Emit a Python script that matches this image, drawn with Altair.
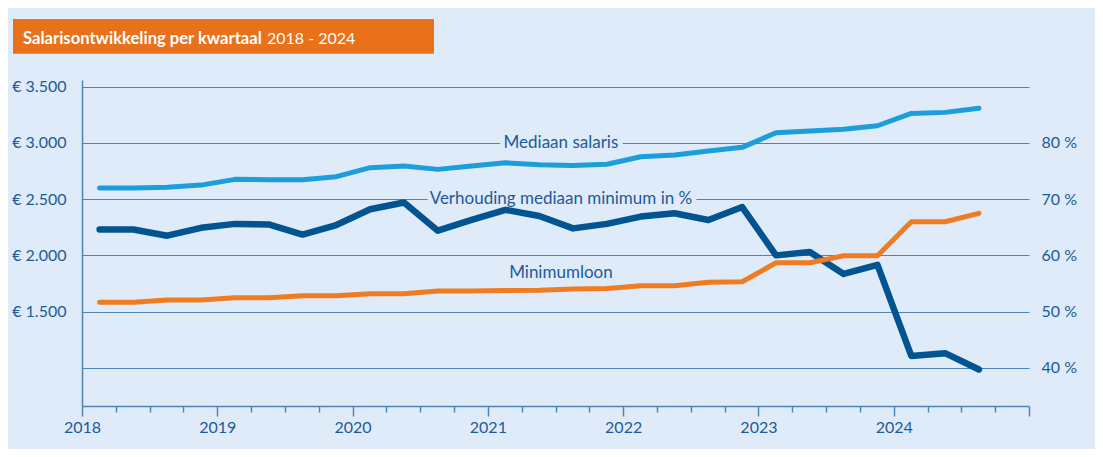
import altair as alt
import pandas as pd

# ---- data -------------------------------------------------------------
jaren = [2018] * 4 + [2019] * 4 + [2020] * 4 + [2021] * 4 + [2022] * 4 + [2023] * 4 + [2024] * 3
kwartalen = [1, 2, 3, 4] * 6 + [1, 2, 3]

mediaan_salaris = [2600, 2600, 2605, 2625, 2676, 2673, 2673, 2700, 2780, 2795, 2765, 2795,
                   2824, 2806, 2800, 2810, 2877, 2892, 2928, 2961, 3091, 3106, 3121, 3153,
                   3263, 3272, 3308]
minimumloon = [1582, 1582, 1602, 1602, 1623, 1623, 1641, 1641, 1658, 1658, 1682, 1682,
               1688, 1690, 1700, 1706, 1729, 1729, 1760, 1765, 1934, 1934, 1996, 1996,
               2299, 2299, 2374]
verhouding = [64.6, 64.6, 63.5, 64.9, 65.6, 65.5, 63.7, 65.4, 68.2, 69.4, 64.4, 66.3,
              68.1, 67.0, 64.8, 65.6, 66.9, 67.5, 66.3, 68.6, 60.0, 60.6, 56.7, 58.3,
              42.1, 42.6, 39.7]

euro_ticks = [1000, 1500, 2000, 2500, 3000, 3500]
pct_ticks = [40, 50, 60, 70, 80]
x_ticks = [2018 + i * 0.25 for i in range(29)]

label_texts = ["Mediaan salaris", "Verhouding mediaan minimum in %", "Minimumloon"]
label_t = [2021.54, 2021.54, 2021.54]
label_waarde = [3000, 2500, 1845]

title_bold = "Salarisontwikkeling per kwartaal"
title_regular = "2018 - 2024"

# ---- styling ----------------------------------------------------------
BG = "#dfebf8"
GRID = "#4c84bb"
TXT = "#1d5a98"
LIGHT = "#1b9edb"
DARK = "#01548f"
ORANGE = "#f07c22"
BOX = "#e9711a"
FONT = "Lato"

# time position of each quarterly observation (middle of the 2nd month)
t = [j + (k - 1) * 0.25 + 0.13 for j, k in zip(jaren, kwartalen)]

euro_df = pd.DataFrame({
    "t": t * 2,
    "waarde": mediaan_salaris + minimumloon,
    "reeks": ["Mediaan salaris"] * len(t) + ["Minimumloon"] * len(t),
})
pct_df = pd.DataFrame({"t": t, "pct": verhouding})
label_df = pd.DataFrame({"label": label_texts, "t": label_t, "waarde": label_waarde})
one = pd.DataFrame({"a": [0]})

X = alt.X(
    "t:Q",
    scale=alt.Scale(domain=[2018, 2025], nice=False, zero=False),
    axis=alt.Axis(
        values=x_ticks,
        labelExpr="(datum.value % 1 === 0 && datum.value < 2025) ? format(datum.value, 'd') : ''",
        title=None,
        grid=False,
        domainColor=GRID,
        domainWidth=1.5,
        tickColor=GRID,
        tickWidth=1.5,
        tickSize={"condition": {"test": "datum.value % 1 === 0", "value": 10}, "value": 6},
        labelPadding=3,
        labelFont=FONT,
        labelFontSize=16,
        labelColor=TXT,
        labelFlush=False,
        labelOverlap=False,
    ),
)

euro_scale = alt.Scale(domain=[660, 3560], nice=False, zero=False)

Y_euro = alt.Y(
    "waarde:Q",
    scale=euro_scale,
    axis=alt.Axis(
        orient="left",
        values=euro_ticks,
        labelExpr="datum.value < 1500 ? '' : '€ ' + replace(format(datum.value, ','), ',', '.')",
        title=None,
        grid=True,
        gridColor=GRID,
        gridWidth=1.2,
        domain=True,
        domainColor=GRID,
        domainWidth=1.5,
        ticks=False,
        labelPadding=16,
        labelFont=FONT,
        labelFontSize=16,
        labelColor=TXT,
    ),
)
Y_euro_plain = alt.Y("waarde:Q", scale=euro_scale, axis=None)

Y_pct = alt.Y(
    "pct:Q",
    scale=alt.Scale(domain=[33.2, 91.2], nice=False, zero=False),
    axis=alt.Axis(
        orient="right",
        values=pct_ticks,
        labelExpr="datum.value + ' %'",
        title=None,
        grid=False,
        domain=False,
        ticks=False,
        labelPadding=12,
        labelAlign="left",
        labelFont=FONT,
        labelFontSize=16,
        labelColor=TXT,
    ),
)

# masks that interrupt the grid lines behind the series labels
label_mask = alt.Chart(label_df).mark_text(
    font=FONT, fontSize=17, align="center", baseline="middle",
    fill=BG, stroke=BG, strokeWidth=10, strokeJoin="round",
).encode(x=X, y=Y_euro, text="label:N")

pct_line = alt.Chart(pct_df).mark_line(
    color=DARK, strokeWidth=6.5, strokeCap="round", strokeJoin="round"
).encode(x=X, y=Y_pct)

euro_lines = alt.Chart(euro_df).mark_line(
    strokeWidth=5, strokeCap="round", strokeJoin="round"
).encode(
    x=X,
    y=Y_euro_plain,
    color=alt.Color(
        "reeks:N",
        scale=alt.Scale(domain=["Mediaan salaris", "Minimumloon"], range=[LIGHT, ORANGE]),
        legend=None,
    ),
    detail="reeks:N",
)

label_text = alt.Chart(label_df).mark_text(
    font=FONT, fontSize=17, align="center", baseline="middle", color=TXT,
).encode(x=X, y=Y_euro_plain, text="label:N")

title_box = alt.Chart(one).mark_rect(color=BOX).encode(
    x=alt.value(-69), x2=alt.value(352), y=alt.value(-61), y2=alt.value(-26.3)
)
title_b = alt.Chart(one).mark_text(
    font=FONT, fontSize=16.6, fontWeight="bold", color="white",
    align="left", baseline="alphabetic",
).encode(x=alt.value(-59), y=alt.value(-36.5), text=alt.value(title_bold))
title_r = alt.Chart(one).mark_text(
    font=FONT, fontSize=16, color="white", align="left", baseline="alphabetic",
).encode(x=alt.value(185), y=alt.value(-36.5), text=alt.value(title_regular))

top_layer = alt.layer(euro_lines, label_text, title_box, title_b, title_r)

chart = alt.layer(label_mask, pct_line, top_layer).resolve_scale(y="independent").properties(
    width=947,
    height=326,
    autosize=alt.AutoSizeParams(type="none"),
    padding={"left": 74, "top": 72, "right": 66, "bottom": 43},
    background=BG,
).configure_view(stroke=None)

chart.save("out.html", embed_options={"renderer": "svg", "actions": False})
